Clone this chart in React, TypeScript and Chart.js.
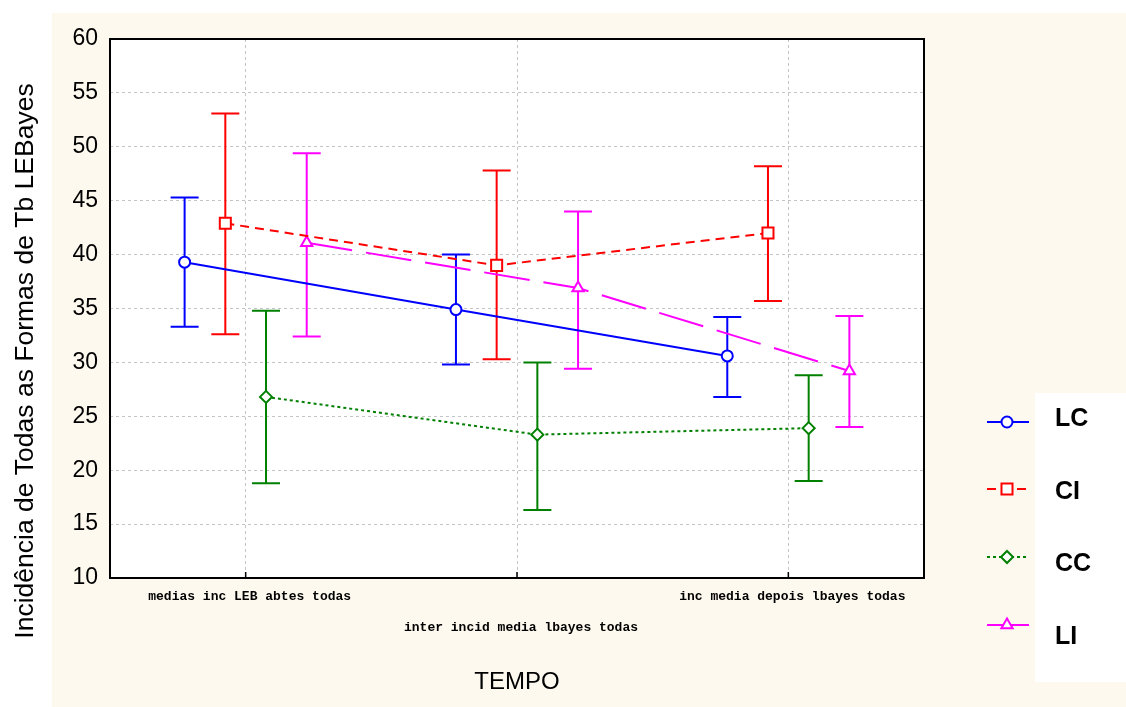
import React, { useEffect, useRef } from "react";
import { Chart, registerables } from "chart.js";

Chart.register(...registerables);

const categories = [
  "medias inc LEB abtes todas",
  "inter incid media lbayes todas",
  "inc media depois lbayes todas",
];
const seriesNames = ["LC", "CI", "CC", "LI"];
const lcMean = [39.3, 34.9, 30.6];
const ciMean = [42.9, 39.0, 42.0];
const ccMean = [26.8, 23.3, 23.9];
const liMean = [41.1, 36.9, 29.2];
const lcUpper = [45.3, 40.0, 34.2];
const ciUpper = [53.1, 47.8, 48.2];
const ccUpper = [34.8, 30.0, 28.8];
const liUpper = [49.4, 44.0, 34.3];
const lcLower = [33.3, 29.8, 26.8];
const ciLower = [32.6, 30.3, 35.7];
const ccLower = [18.8, 16.3, 19.0];
const liLower = [32.4, 29.4, 24.0];
const yTicks = [10, 15, 20, 25, 30, 35, 40, 45, 50, 55, 60];

const means = [lcMean, ciMean, ccMean, liMean];
const uppers = [lcUpper, ciUpper, ccUpper, liUpper];
const lowers = [lcLower, ciLower, ccLower, liLower];
const offsets = [-0.225, -0.075, 0.075, 0.225];
const colors = ["#0000FF", "#FF0000", "#008000", "#FF00FF"];
const dashes = [[], [9, 6], [3, 3], [46, 14]];
const pointStyles = ["circle", "rect", "rectRot", "triangle"];
const pointRadii = [5.5, 7.8, 6, 6.5];

const W = 1126;
const H = 707;

const bgPlugin = {
  id: "bg",
  beforeDraw(chart: any) {
    const { ctx, chartArea } = chart;
    ctx.save();
    ctx.fillStyle = "#ffffff";
    ctx.fillRect(0, 0, W, H);
    ctx.fillStyle = "#FDF9EE";
    ctx.fillRect(52, 13, W - 52, H - 13);
    ctx.fillStyle = "#ffffff";
    ctx.fillRect(chartArea.left, chartArea.top, chartArea.right - chartArea.left, chartArea.bottom - chartArea.top);
    ctx.restore();
  },
};

const errorBarPlugin = {
  id: "errbars",
  beforeDatasetsDraw(chart: any) {
    const { ctx, scales } = chart;
    const xs = scales.x;
    const ys = scales.y;
    ctx.save();
    means.forEach((m, s) => {
      ctx.strokeStyle = colors[s];
      ctx.lineWidth = 2;
      ctx.setLineDash([]);
      m.forEach((_, i) => {
        const x = xs.getPixelForValue(i + offsets[s]);
        const yu = ys.getPixelForValue(uppers[s][i]);
        const yl = ys.getPixelForValue(lowers[s][i]);
        ctx.beginPath();
        ctx.moveTo(x, yu);
        ctx.lineTo(x, yl);
        ctx.moveTo(x - 14, yu);
        ctx.lineTo(x + 14, yu);
        ctx.moveTo(x - 14, yl);
        ctx.lineTo(x + 14, yl);
        ctx.stroke();
      });
    });
    ctx.restore();
  },
};

function drawMarker(ctx: CanvasRenderingContext2D, style: string, r: number, x: number, y: number) {
  ctx.beginPath();
  if (style === "circle") {
    ctx.arc(x, y, r, 0, Math.PI * 2);
  } else if (style === "rect") {
    const h = Math.SQRT1_2 * r;
    ctx.rect(x - h, y - h, 2 * h, 2 * h);
  } else if (style === "rectRot") {
    ctx.moveTo(x - r, y);
    ctx.lineTo(x, y - r);
    ctx.lineTo(x + r, y);
    ctx.lineTo(x, y + r);
    ctx.closePath();
  } else {
    const a = (2 * Math.PI) / 3;
    ctx.moveTo(x, y - r);
    ctx.lineTo(x + Math.sin(a) * r, y - Math.cos(a) * r);
    ctx.lineTo(x + Math.sin(2 * a) * r, y - Math.cos(2 * a) * r);
    ctx.closePath();
  }
  ctx.fill();
  ctx.stroke();
}

const framePlugin = {
  id: "frame",
  afterDraw(chart: any) {
    const { ctx, chartArea, scales } = chart;
    const xs = scales.x;
    ctx.save();
    ctx.strokeStyle = "#000";
    ctx.lineWidth = 2;
    ctx.setLineDash([]);
    ctx.strokeRect(chartArea.left, chartArea.top, chartArea.right - chartArea.left, chartArea.bottom - chartArea.top);
    ctx.lineWidth = 1.5;
    categories.forEach((_, i) => {
      const x = xs.getPixelForValue(i);
      ctx.beginPath();
      ctx.moveTo(x, chartArea.bottom);
      ctx.lineTo(x, chartArea.bottom - 6);
      ctx.stroke();
    });
    ctx.fillStyle = "#000";
    ctx.font = "bold 13px 'Liberation Mono', 'DejaVu Sans Mono', monospace";
    ctx.textAlign = "center";
    ctx.textBaseline = "middle";
    categories.forEach((c, i) => {
      const x = xs.getPixelForValue(i) + 4;
      const y = chartArea.bottom + (i % 2 === 0 ? 19 : 50);
      ctx.fillText(c, x, y);
    });
    ctx.font = "24px 'Liberation Sans', Arial, sans-serif";
    ctx.fillText("TEMPO", (chartArea.left + chartArea.right) / 2, 682);
    ctx.save();
    ctx.translate(26, 361);
    ctx.rotate(-Math.PI / 2);
    ctx.font = "26.5px 'Liberation Sans', Arial, sans-serif";
    ctx.fillText("Incidência de Todas as Formas de Tb LEBayes", 0, 0);
    ctx.restore();
    // legend
    ctx.fillStyle = "#ffffff";
    ctx.fillRect(1035, 393, W - 1035, 682 - 393);
    const markerYs = [422, 489, 557, 625];
    const labelYs = [419, 492, 564, 637];
    seriesNames.forEach((name, s) => {
      const y = markerYs[s];
      ctx.strokeStyle = colors[s];
      ctx.lineWidth = 2;
      ctx.setLineDash(dashes[s]);
      ctx.beginPath();
      ctx.moveTo(987, y);
      ctx.lineTo(1029, y);
      ctx.stroke();
      ctx.setLineDash([]);
      ctx.fillStyle = "#ffffff";
      drawMarker(ctx, pointStyles[s], pointRadii[s], 1007, y);
      ctx.fillStyle = "#000";
      ctx.font = "bold 25px 'Liberation Sans', Arial, sans-serif";
      ctx.textAlign = "left";
      ctx.fillText(name, 1055, labelYs[s]);
    });
    ctx.restore();
  },
};

export default function App() {
  const ref = useRef<HTMLCanvasElement>(null);
  useEffect(() => {
    if (!ref.current) return;
    const datasets = seriesNames.map((name, s) => ({
      label: name,
      data: means[s].map((v, i) => ({ x: i + offsets[s], y: v })),
      borderColor: colors[s],
      backgroundColor: "#ffffff",
      borderWidth: 2,
      borderDash: dashes[s],
      pointStyle: pointStyles[s],
      pointRadius: pointRadii[s],
      pointBorderWidth: 2,
      pointBackgroundColor: "#ffffff",
      pointBorderColor: colors[s],
      showLine: true,
      tension: 0,
      fill: false,
    }));
    const chart = new Chart(ref.current, {
      type: "line",
      data: { datasets },
      plugins: [bgPlugin, errorBarPlugin, framePlugin],
      options: {
        animation: false,
        responsive: false,
        devicePixelRatio: 1,
        layout: { padding: { left: 0, top: 39, right: W - 924, bottom: H - 578 } },
        plugins: { legend: { display: false }, tooltip: { enabled: false } },
        scales: {
          x: {
            type: "linear",
            min: -0.5,
            max: 2.5,
            afterBuildTicks: (scale: any) => {
              scale.ticks = categories.map((_, i) => ({ value: i }));
            },
            afterFit: (scale: any) => {
              scale.height = 0;
            },
            ticks: { display: false },
            border: { display: false, dash: [3, 3] },
            grid: { color: "#c4c4c4", lineWidth: 1, drawTicks: false },
          },
          y: {
            type: "linear",
            min: 10,
            max: 60,
            afterBuildTicks: (scale: any) => {
              scale.ticks = yTicks.map((v) => ({ value: v }));
            },
            afterFit: (scale: any) => {
              scale.width = 110;
            },
            ticks: {
              padding: 12,
              color: "#000",
              font: { family: "'Liberation Sans', Arial, sans-serif", size: 23 },
            },
            border: { display: false, dash: [3, 3] },
            grid: { color: "#c4c4c4", lineWidth: 1, drawTicks: false },
          },
        },
      } as any,
    });
    return () => chart.destroy();
  }, []);
  return (
    <div style={{ position: "fixed", left: 0, top: 0, width: W, height: H }}>
      <canvas ref={ref} width={W} height={H} style={{ width: W, height: H, display: "block" }} />
    </div>
  );
}
